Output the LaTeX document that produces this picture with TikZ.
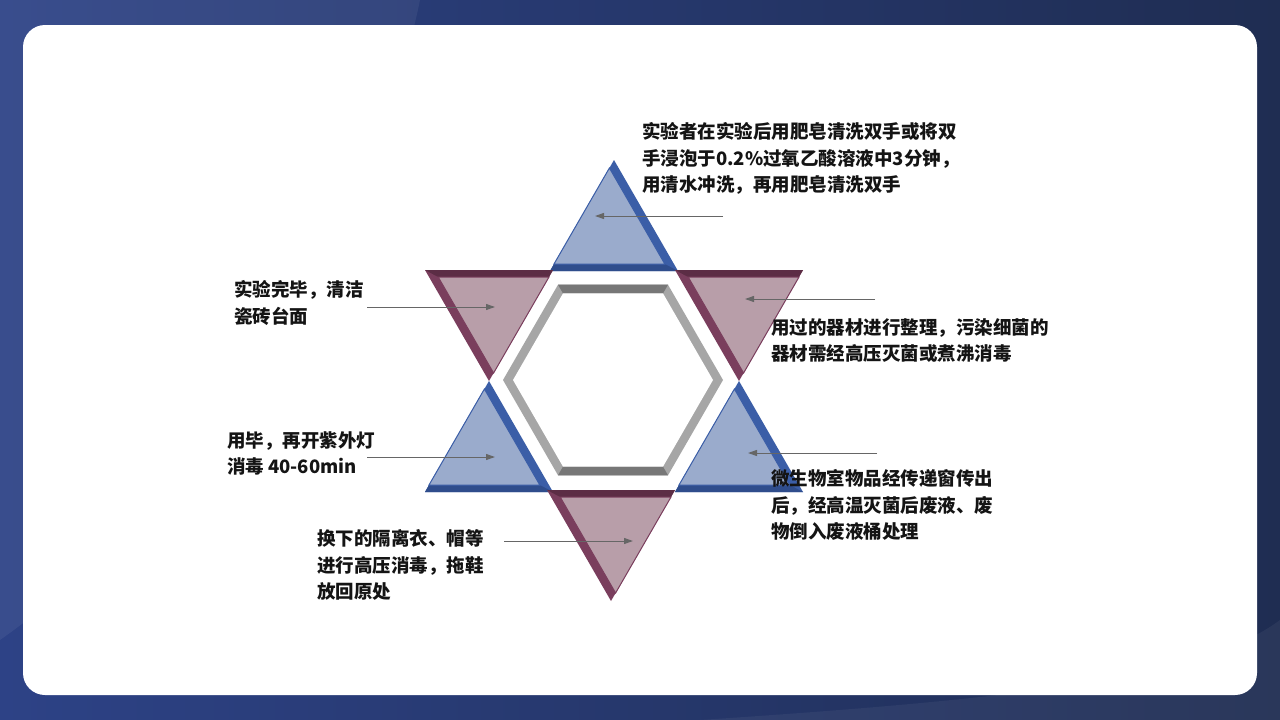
\documentclass[tikz,border=0pt]{standalone}
\usepackage{fontspec}
\setmainfont{Noto Sans CJK SC}
\usepackage{tikz}
\usetikzlibrary{arrows.meta,calc}
\definecolor{bgleft}{HTML}{2D4286}
\definecolor{bgright}{HTML}{1F2D52}
\definecolor{bluefill}{HTML}{9AABCC}
\definecolor{blueedge}{HTML}{3B5EA7}
\definecolor{bluebase}{HTML}{2F4D8C}
\definecolor{mauvefill}{HTML}{B89EA9}
\definecolor{mauveedge}{HTML}{7A3E5D}
\definecolor{mauvetop}{HTML}{5C2D45}
\definecolor{hexlight}{HTML}{A6A6A6}
\definecolor{hexdark}{HTML}{777777}
\definecolor{textblack}{HTML}{141414}
\definecolor{pointergray}{HTML}{666666}
\tikzset{
    note/.style={anchor=north west,inner sep=0pt,outer sep=0pt,align=left,
        text=textblack,font=\fontsize{18.5}{26.5}\selectfont\bfseries},
    pointer/.style={draw=pointergray,line width=1pt,
        -{Triangle[length=9pt,width=6pt]}},
    uptri/.pic={
        \fill[blueedge] (0,0) -- (-64,111) -- (64,111) -- cycle;
        \fill[bluebase] (-64,111) -- (64,111) -- (50.8,104) -- (-60,104) -- cycle;
        \filldraw[fill=bluefill,draw=blueedge,line width=1pt] (-4.6,8) -- (-60,104) -- (50.8,104) -- cycle;
    },
    downtri/.pic={
        \fill[mauveedge] (0,0) -- (-64,-111) -- (64,-111) -- cycle;
        \fill[mauvetop] (-64,-111) -- (64,-111) -- (60,-104) -- (-50.8,-104) -- cycle;
        \filldraw[fill=mauvefill,draw=mauveedge,line width=1pt] (4.6,-8) -- (60,-104) -- (-50.8,-104) -- cycle;
    }
}

\begin{document}
\begin{tikzpicture}[x=1pt,y=-1pt]
    \useasboundingbox (0,0) rectangle (1280,720);
    % background and panel
    \fill[left color=bgleft,right color=bgright] (0,0) rectangle (1280,720);
    \fill[white,opacity=0.06] (420,0) .. controls (380,200) and (200,500) .. (0,640) -- (0,0) -- cycle;
    \fill[white,opacity=0.05] (1280,620) .. controls (1200,680) and (1000,700) .. (700,720) -- (1280,720) -- cycle;
    \fill[white,rounded corners=22pt] (23,25) rectangle (1257,695);

    % star
    \pic at (614,160) {uptri};
    \pic at (489,381) {uptri};
    \pic at (739,381) {uptri};
    \pic at (489,381) {downtri};
    \pic at (739,381) {downtri};
    \pic at (611,601) {downtri};

    % hexagon frame
    \coordinate (hc) at (613,380);
    \fill[hexlight] ($(hc)+(0:110)$) \foreach \a in {60,120,...,300} { -- ($(hc)+(\a:110)$) } -- cycle;
    \fill[hexdark] ($(hc)+(240:110)$) -- ($(hc)+(300:110)$) -- ($(hc)+(300:100)$) -- ($(hc)+(240:100)$) -- cycle;
    \fill[hexdark] ($(hc)+(60:110)$) -- ($(hc)+(120:110)$) -- ($(hc)+(120:100)$) -- ($(hc)+(60:100)$) -- cycle;
    \fill[white] ($(hc)+(0:100)$) \foreach \a in {60,120,...,300} { -- ($(hc)+(\a:100)$) } -- cycle;

    % texts
    \node[note] (wash) at (642,122.5) {实验者在实验后用肥皂清洗双手或将双\\手浸泡于0.2\%过氧乙酸溶液中3分钟，\\用清水冲洗，再用肥皂清洗双手};
    \node[note] (bench) at (234,280.5) {实验完毕，清洁\\瓷砖台面};
    \node[note] (tools) at (771,318.5) {用过的器材进行整理，污染细菌的\\器材需经高压灭菌或煮沸消毒};
    \node[note] (lamp) at (227,431.5) {用毕，再开紫外灯\\消毒 40-60min};
    \node[note] (waste) at (771,469.5) {微生物室物品经传递窗传出\\后，经高温灭菌后废液、废\\物倒入废液桶处理};
    \node[note] (gown) at (317,529.5) {换下的隔离衣、帽等\\进行高压消毒，拖鞋\\放回原处};

    % pointers
    \coordinate (washtail) at (723,216);
    \coordinate (washhead) at (595,216);
    \coordinate (benchtail) at (367,307);
    \coordinate (benchhead) at (495,307);
    \coordinate (toolstail) at (875,299);
    \coordinate (toolshead) at (745,299);
    \coordinate (lamptail) at (367,457);
    \coordinate (lamphead) at (495,457);
    \coordinate (wastetail) at (877,453);
    \coordinate (wastehead) at (748,453);
    \coordinate (gowntail) at (504,541);
    \coordinate (gownhead) at (633,541);
    \foreach \n in {wash,bench,tools,lamp,waste,gown}
        \draw[pointer] (\n tail) -- (\n head);
\end{tikzpicture}
\end{document}
